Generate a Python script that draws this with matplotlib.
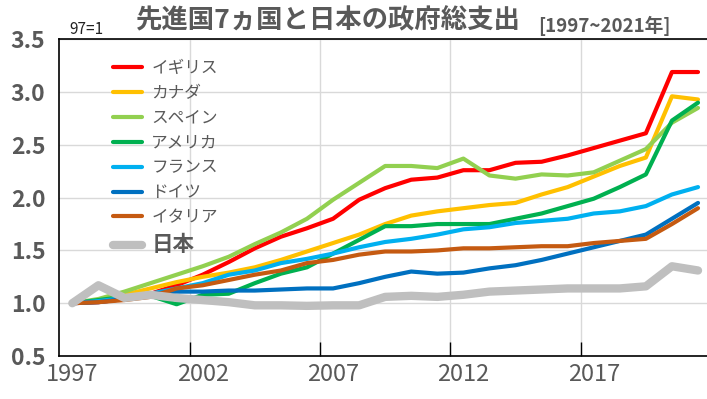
import matplotlib
matplotlib.use("Agg")
import matplotlib.pyplot as plt

plt.rcParams['font.family'] = ['Noto Sans CJK JP', 'DejaVu Sans']

# 1997年を1とした政府総支出の推移
years = list(range(1997, 2022))
uk      = [1.00, 1.01, 1.04, 1.09, 1.17, 1.27, 1.39, 1.52, 1.63, 1.71, 1.80, 1.98, 2.09,
           2.17, 2.19, 2.26, 2.26, 2.33, 2.34, 2.40, 2.47, 2.54, 2.61, 3.19, 3.19]
canada  = [1.00, 1.02, 1.08, 1.14, 1.20, 1.25, 1.29, 1.34, 1.41, 1.49, 1.57, 1.65, 1.75,
           1.83, 1.87, 1.90, 1.93, 1.95, 2.03, 2.10, 2.20, 2.30, 2.38, 2.96, 2.93]
spain   = [1.00, 1.04, 1.11, 1.19, 1.27, 1.35, 1.44, 1.56, 1.67, 1.80, 1.98, 2.14, 2.30,
           2.30, 2.28, 2.37, 2.21, 2.18, 2.22, 2.21, 2.24, 2.35, 2.46, 2.71, 2.85]
usa     = [1.00, 1.03, 1.06, 1.07, 0.99, 1.08, 1.09, 1.19, 1.28, 1.34, 1.47, 1.60, 1.73,
           1.73, 1.75, 1.75, 1.75, 1.80, 1.85, 1.92, 1.99, 2.10, 2.22, 2.73, 2.90]
france  = [1.00, 1.02, 1.05, 1.09, 1.14, 1.19, 1.27, 1.31, 1.38, 1.42, 1.47, 1.53, 1.58,
           1.61, 1.65, 1.70, 1.72, 1.76, 1.78, 1.80, 1.85, 1.87, 1.92, 2.03, 2.10]
germany = [1.00, 1.01, 1.04, 1.09, 1.11, 1.11, 1.12, 1.12, 1.13, 1.14, 1.14, 1.19, 1.25,
           1.30, 1.28, 1.29, 1.33, 1.36, 1.41, 1.47, 1.53, 1.59, 1.65, 1.80, 1.95]
italy   = [1.00, 1.01, 1.03, 1.06, 1.14, 1.17, 1.22, 1.27, 1.31, 1.38, 1.41, 1.46, 1.49,
           1.49, 1.50, 1.52, 1.52, 1.53, 1.54, 1.54, 1.57, 1.59, 1.61, 1.75, 1.90]
japan   = [1.00, 1.17, 1.05, 1.08, 1.05, 1.03, 1.01, 0.98, 0.98, 0.975, 0.98, 0.98, 1.06,
           1.07, 1.06, 1.08, 1.11, 1.12, 1.13, 1.14, 1.14, 1.14, 1.16, 1.35, 1.31]

names = ['イギリス', 'カナダ', 'スペイン', 'アメリカ', 'フランス', 'ドイツ', 'イタリア', '日本']
series = [uk, canada, spain, usa, france, germany, italy, japan]
colors = ['#FF0000', '#FFC000', '#92D050', '#00B050', '#00B0F0', '#0070C0', '#C55A11', '#BFBFBF']
widths = [3.0, 3.0, 3.0, 3.0, 3.0, 3.0, 3.0, 6.0]

text_gray = '#595959'

fig = plt.figure(figsize=(7.07, 3.99), dpi=100)
ax = fig.add_axes([59.3 / 707, 43 / 399, 651.75 / 707, 316.7 / 399])

x = list(range(len(years)))
for vals, name, c, w in zip(series, names, colors, widths):
    ax.plot(x, vals, color=c, lw=w, label=name, solid_capstyle='round', solid_joinstyle='round')

ax.set_xlim(-0.5, len(years) - 0.5)
ax.set_ylim(0.5, 3.5)
ax.set_yticks([0.5, 1.0, 1.5, 2.0, 2.5, 3.0, 3.5])
ax.set_yticklabels(['%.1f' % v for v in ax.get_yticks()], fontsize=16.5,
                   fontweight='bold', color=text_gray)
ax.tick_params(axis='y', length=0, pad=10)

# ラベルは各年の中央、目盛りは区切り位置
ax.set_xticks(x[::5])
ax.set_xticklabels([str(years[i]) for i in x[::5]], fontsize=17, color=text_gray)
ax.set_xticks([4.5, 9.5, 14.5, 19.5], minor=True)
ax.tick_params(axis='x', which='major', length=0, pad=5)
ax.tick_params(axis='x', which='minor', direction='in', length=10, width=1, color='black')

ax.grid(axis='y', which='major', color='#D9D9D9', lw=1)
ax.grid(axis='x', which='minor', color='#D9D9D9', lw=1)
ax.set_axisbelow(True)
for s in ax.spines.values():
    s.set_color('black')
    s.set_linewidth(1.2)

leg = ax.legend(loc='upper left', bbox_to_anchor=(0.072, 0.955), frameon=False,
                fontsize=12, handlelength=1.75, handletextpad=0.55, labelspacing=0.47,
                borderaxespad=0)
for t in leg.get_texts():
    t.set_color(text_gray)
leg.get_texts()[-1].set_fontsize(15.5)
leg.get_texts()[-1].set_fontweight('bold')

fig.text(328 / 707, 1 - 21 / 399, '先進国7ヵ国と日本の政府総支出', ha='center', va='center',
         fontsize=19, fontweight='bold', color=text_gray)
fig.text(604 / 707, 1 - 26 / 399, '[1997~2021年]', ha='center', va='center',
         fontsize=13.5, fontweight='bold', color=text_gray)
fig.text(69 / 707, 1 - 30 / 399, '97=1', ha='left', va='center', fontsize=11, color='#222222')

fig.savefig('out.png', dpi=100)
